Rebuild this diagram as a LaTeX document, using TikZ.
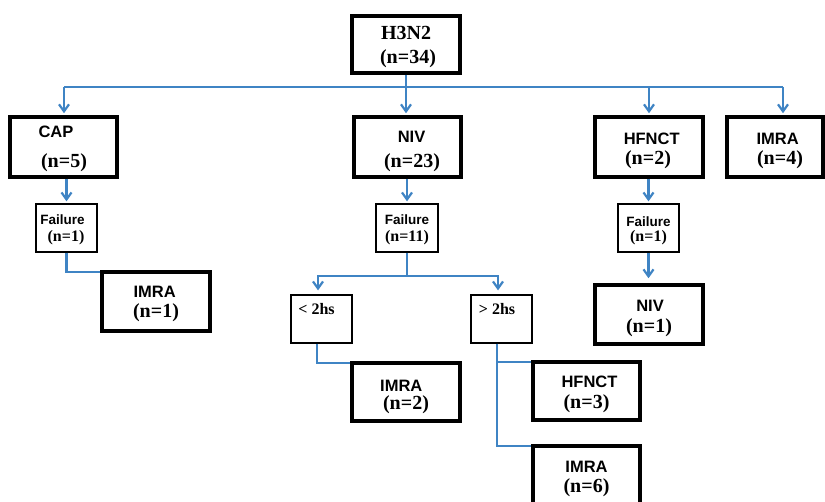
\documentclass[tikz,border=0pt]{standalone}
\usepackage{fontspec}
\setmainfont{Liberation Serif}
\newfontfamily\arialfam{Liberation Sans}
\usetikzlibrary{arrows.meta}
\definecolor{lineblue}{HTML}{3F84C4}
\newcommand\fSerL{\fontsize{20}{24}\selectfont\bfseries}
\newcommand\fSerS{\fontsize{16}{19}\selectfont\bfseries}
\newcommand\fSanL{\arialfam\fontsize{16.5}{19}\selectfont\bfseries}
\newcommand\fSanS{\arialfam\fontsize{13.5}{16}\selectfont\bfseries}
% a text line placed by its baseline: x shift, raise, content
\newcommand\tl[3]{\rlap{\hspace*{#1}\makebox[0pt]{\raisebox{#2}[0pt][0pt]{#3}}}}
\tikzset{
  thickbox/.style={draw=black, line width=3.5pt, inner sep=0pt},
  thinbox/.style={draw=black, line width=1.3pt, inner sep=0pt},
  conn/.style={draw=lineblue, line width=2.2pt},
  arr/.style={conn, -{Straight Barb[length=7pt,width=10pt]}, shorten >=2pt},
}
\begin{document}
\begin{tikzpicture}[x=1pt,y=-1pt]
\path[fill=white,use as bounding box] (0,0) rectangle (825,502);

% level 0
\node[thickbox, minimum width=108, minimum height=57] (h3n2) at (406,44.5)
  {\tl{0pt}{4.5pt}{\fSerL H3N2}\tl{2pt}{-19.2pt}{\fSerL (n=34)}};

% level 1
\node[thickbox, minimum width=107, minimum height=60] (cap) at (63.5,147)
  {\tl{-7.5pt}{9pt}{\fSanL CAP}\tl{0.5pt}{-21pt}{\fSerL (n=5)}};
\node[thickbox, minimum width=107, minimum height=60] (niv) at (407.5,147)
  {\tl{4pt}{4.5pt}{\fSanL NIV}\tl{4.5pt}{-21pt}{\fSerL (n=23)}};
\node[thickbox, minimum width=108, minimum height=60] (hfnct) at (649,147)
  {\tl{2.7pt}{2pt}{\fSanL HFNCT}\tl{-1pt}{-18pt}{\fSerL (n=2)}};
\node[thickbox, minimum width=96, minimum height=60] (imra4) at (775,147)
  {\tl{2.7pt}{2pt}{\fSanL IMRA}\tl{5pt}{-18pt}{\fSerL (n=4)}};

% failures
\node[thinbox, minimum width=61, minimum height=48] (f1) at (66.5,228)
  {\tl{-4pt}{3pt}{\fSanS Failure}\tl{-0.5pt}{-13.6pt}{\fSerS (n=1)}};
\node[thinbox, minimum width=62, minimum height=48] (f2) at (407,228)
  {\tl{0pt}{3.7pt}{\fSanS Failure}\tl{0pt}{-13.6pt}{\fSerS (n=11)}};
\node[thinbox, minimum width=61, minimum height=48] (f3) at (648.5,228)
  {\tl{0pt}{1.5pt}{\fSanS Failure}\tl{0pt}{-13.6pt}{\fSerS (n=1)}};

% level 3
\node[thickbox, minimum width=108, minimum height=59] (imra1) at (156,301.5)
  {\tl{-1.3pt}{3.5pt}{\fSanL IMRA}\tl{0pt}{-16.5pt}{\fSerL (n=1)}};
\node[thickbox, minimum width=108, minimum height=59] (niv1) at (649,314.5)
  {\tl{1pt}{2.5pt}{\fSanL NIV}\tl{0pt}{-18.5pt}{\fSerL (n=1)}};
\node[thinbox, minimum width=61, minimum height=48] (lt) at (321.5,319)
  {\tl{-5pt}{4pt}{\fSerS < 2hs}};
\node[thinbox, minimum width=61, minimum height=48] (gt) at (501.5,319)
  {\tl{-4.5pt}{4pt}{\fSerS > 2hs}};

% level 4
\node[thickbox, minimum width=108, minimum height=58] (imra2) at (406,392)
  {\tl{-4.7pt}{0pt}{\fSanL IMRA}\tl{0pt}{-18pt}{\fSerL (n=2)}};
\node[thickbox, minimum width=107, minimum height=58] (hfnct3) at (586.5,391)
  {\tl{3pt}{3pt}{\fSanL HFNCT}\tl{0pt}{-18pt}{\fSerL (n=3)}};
\node[thickbox, minimum width=107, minimum height=62] (imra6) at (586.5,477)
  {\tl{0pt}{4pt}{\fSanL IMRA}\tl{0pt}{-16pt}{\fSerL (n=6)}};

% connectors from H3N2
\coordinate (busL) at (64,87);
\coordinate (busR) at (783,87);
\draw[conn] (busL) -- (busR);
\draw[arr] (busL) -- (busL |- cap.north);
\draw[arr] (h3n2.south) -- (h3n2.south |- niv.north);
\draw[arr] (hfnct.north |- busL) -- (hfnct.north);
\draw[arr] (busR) -- (busR |- imra4.north);

% CAP branch
\draw[arr] (cap.south -| f1.north) -- (f1.north);
\draw[conn] (f1.south) |- ([yshift=-2pt]imra1.north west);

% NIV branch
\draw[arr] (niv.south -| f2.north) -- (f2.north);
\path (f2.south) ++(0,23) coordinate (sp);
\draw[conn] (f2.south) -- (sp);
\draw[arr, shorten >=4pt] (sp) -| ([xshift=-3.5pt]lt.north);
\draw[arr, shorten >=4pt] (sp) -| ([xshift=-3.5pt]gt.north);
\draw[conn] ([xshift=-4.5pt]lt.south) |- ([yshift=-2pt]imra2.north west);
\draw[conn] ([xshift=-4.5pt]gt.south) |- ([yshift=-2pt]hfnct3.north west);
\draw[conn] ([xshift=-4.5pt]gt.south) |- ([yshift=-2pt]imra6.north west);

% HFNCT branch
\draw[arr] (hfnct.south -| f3.north) -- (f3.north);
\draw[arr, shorten >=5pt] (f3.south) -- (f3.south |- niv1.north);
\end{tikzpicture}
\end{document}
